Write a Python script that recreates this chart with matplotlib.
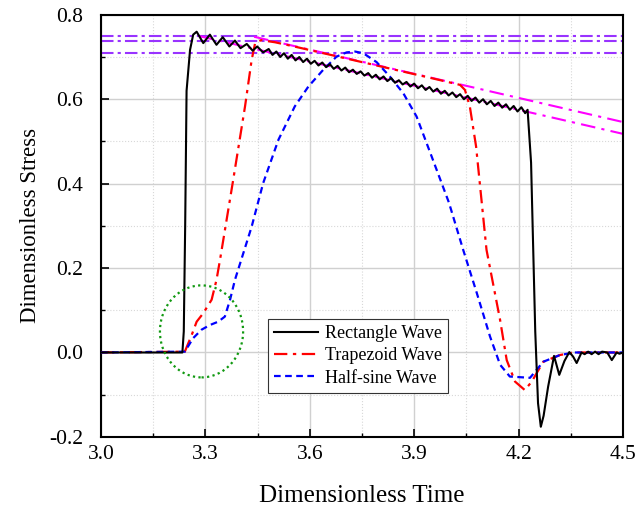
import numpy as np
import matplotlib.pyplot as plt
from matplotlib.patches import Ellipse
from matplotlib.ticker import MultipleLocator

plt.rcParams['font.family'] = ['Liberation Serif', 'DejaVu Serif']

# Rectangle wave (black)
rect_t = [3.0, 3.234, 3.238, 3.242, 3.246, 3.256, 3.265, 3.275,
          3.294, 3.313, 3.332, 3.350, 3.369, 3.385, 3.401, 3.419, 3.436, 3.449, 3.466, 3.482,
          3.493, 3.504, 3.515, 3.526, 3.537, 3.548, 3.559, 3.570, 3.581, 3.592,
          3.603, 3.614, 3.625, 3.636, 3.647, 3.658, 3.669, 3.680, 3.691, 3.702,
          3.713, 3.724, 3.735, 3.746, 3.757, 3.768, 3.779, 3.790, 3.801, 3.812,
          3.823, 3.834, 3.845, 3.856, 3.867, 3.878, 3.889, 3.900, 3.911, 3.922,
          3.933, 3.944, 3.955, 3.966, 3.977, 3.988, 3.999, 4.010, 4.021, 4.032,
          4.043, 4.054, 4.065, 4.076, 4.087, 4.098, 4.109, 4.120, 4.131, 4.142,
          4.153, 4.164, 4.175, 4.186, 4.197, 4.208, 4.219, 4.226,
          4.236, 4.242, 4.248, 4.256, 4.264, 4.272, 4.285, 4.302, 4.317, 4.332,
          4.346, 4.357, 4.367, 4.381, 4.390, 4.400, 4.410, 4.420, 4.430, 4.440,
          4.455, 4.468, 4.482, 4.490, 4.5]
rect_v = [0.0, 0.0, 0.05, 0.30, 0.62, 0.717, 0.753, 0.760,
          0.733, 0.753, 0.729, 0.747, 0.725, 0.739, 0.721, 0.731, 0.715, 0.725, 0.711, 0.719,
          0.705, 0.713, 0.700, 0.709, 0.696, 0.705, 0.692, 0.700, 0.688, 0.696,
          0.684, 0.691, 0.680, 0.687, 0.676, 0.683, 0.672, 0.679, 0.668, 0.675,
          0.664, 0.670, 0.660, 0.666, 0.656, 0.662, 0.651, 0.658, 0.647, 0.654,
          0.643, 0.650, 0.639, 0.645, 0.635, 0.641, 0.630, 0.637, 0.626, 0.633,
          0.622, 0.629, 0.618, 0.625, 0.613, 0.620, 0.609, 0.616, 0.605, 0.612,
          0.600, 0.608, 0.596, 0.604, 0.592, 0.600, 0.588, 0.596, 0.584, 0.592,
          0.580, 0.588, 0.575, 0.584, 0.571, 0.581, 0.567, 0.575,
          0.45, 0.25, 0.05, -0.12, -0.176, -0.15, -0.081, -0.008, -0.053, -0.020,
          0.001, -0.010, -0.025, 0.0, -0.004, 0.002, -0.004, 0.002, -0.004, 0.002,
          0.0, -0.018, 0.0, -0.003, 0.0]

# Trapezoid wave (red)
trap_t = [3.0, 3.241, 3.261, 3.275, 3.294, 3.318, 3.332, 3.342, 3.38, 3.414, 3.433,
          3.443, 3.46, 3.50, 3.55, 3.65, 3.75, 3.85, 3.95, 4.032, 4.046, 4.06, 4.078,
          4.108, 4.147, 4.166, 4.19, 4.218, 4.238, 4.271, 4.319, 4.36, 4.5]
trap_v = [0.0, 0.002, 0.042, 0.073, 0.093, 0.125, 0.172, 0.219, 0.409, 0.583, 0.693,
          0.733, 0.740, 0.735, 0.726, 0.707, 0.688, 0.669, 0.650, 0.634, 0.622, 0.583, 0.488,
          0.243, 0.077, -0.018, -0.069, -0.089, -0.069, -0.022, -0.006, 0.0, 0.0]

# Half-sine wave (blue)
sine_t = [3.0, 3.241, 3.265, 3.289, 3.313, 3.337, 3.356, 3.371, 3.385, 3.433, 3.466,
          3.51, 3.557, 3.596, 3.639, 3.677, 3.706, 3.73, 3.754, 3.792, 3.83, 3.869,
          3.907, 3.95, 4.0, 4.041, 4.08, 4.118, 4.147, 4.175, 4.233, 4.252, 4.271,
          4.319, 4.36, 4.5]
sine_v = [0.0, 0.002, 0.034, 0.054, 0.065, 0.073, 0.085, 0.125, 0.172, 0.298, 0.401,
          0.504, 0.583, 0.630, 0.670, 0.701, 0.711, 0.713, 0.709, 0.688, 0.654, 0.614,
          0.559, 0.465, 0.355, 0.243, 0.141, 0.038, -0.029, -0.057, -0.060, -0.041, -0.022,
          -0.006, 0.0, 0.0]

# reference levels / trend lines
purple_levels = [0.750, 0.737, 0.710]
trend_lower_t = [3.28, 4.5]
trend_lower_v = [0.750, 0.518]
trend_upper_t = [3.44, 4.5]
trend_upper_v = [0.748, 0.546]

fig = plt.figure(figsize=(6.35, 5.11), dpi=100)
ax = fig.add_axes([0.159, 0.145, 0.822, 0.826])

for lv in purple_levels:
    ax.axhline(lv, color='#9933ff', lw=1.5, ls=(0, (6, 2, 1.5, 2)), zorder=2)

ax.plot(trend_lower_t, trend_lower_v, color='#ff00ff', lw=1.5, ls=(0, (7, 3, 1.5, 3)), zorder=2)
ax.plot(trend_upper_t, trend_upper_v, color='#ff00ff', lw=1.5, ls=(0, (7, 3, 1.5, 3)), zorder=2)

ax.plot(rect_t, rect_v, color='black', lw=1.5, label='Rectangle Wave', zorder=4)
ax.plot(trap_t, trap_v, color='#ff0000', lw=1.6, ls=(0, (6, 2.5, 1.5, 2.5)),
        label='Trapezoid Wave', zorder=3)
ax.plot(sine_t, sine_v, color='#0000ff', lw=1.6, ls=(0, (3, 2)),
        label='Half-sine Wave', zorder=3)

# circle marking the start of the loading
ax.add_patch(Ellipse((3.289, 0.05), 0.239, 0.218, fill=False, edgecolor='#119911',
                     lw=1.6, ls=(0, (1, 1.5)), zorder=5))

ax.set_xlim(3.0, 4.5)
ax.set_ylim(-0.2, 0.8)
ax.xaxis.set_major_locator(MultipleLocator(0.3))
ax.xaxis.set_minor_locator(MultipleLocator(0.15))
ax.yaxis.set_major_locator(MultipleLocator(0.2))
ax.yaxis.set_minor_locator(MultipleLocator(0.1))
ax.xaxis.set_major_formatter(plt.FuncFormatter(lambda v, p: f'{v:.1f}'))
ax.yaxis.set_major_formatter(plt.FuncFormatter(lambda v, p: f'{v:.1f}'))

ax.grid(which='major', color='#d0d0d0', lw=1.0, ls='-', zorder=0)
ax.grid(which='minor', color='#d8d8d8', lw=0.8, ls=':', zorder=0)
ax.set_axisbelow(True)

ax.tick_params(which='major', direction='in', length=6, width=1.2, labelsize=15.5,
               top=False, right=False)
ax.tick_params(axis='x', which='major', pad=6)
ax.tick_params(axis='y', which='major', pad=13)
ax.tick_params(which='minor', direction='in', length=3, width=1.0, top=False, right=False)
for s in ax.spines.values():
    s.set_linewidth(1.5)

ax.set_xlabel('Dimensionless Time', fontsize=18, labelpad=15)
ax.set_ylabel('Dimensionless Stress', fontsize=16.5, labelpad=6)

leg = ax.legend(loc='lower left', bbox_to_anchor=(0.32, 0.104), fontsize=13,
                fancybox=False, framealpha=1, edgecolor='#333333',
                handlelength=2.4, handletextpad=0.4, labelspacing=0.3, borderpad=0.35,
                borderaxespad=0)
leg.get_frame().set_linewidth(0.8)

fig.savefig('out.png', dpi=100)
